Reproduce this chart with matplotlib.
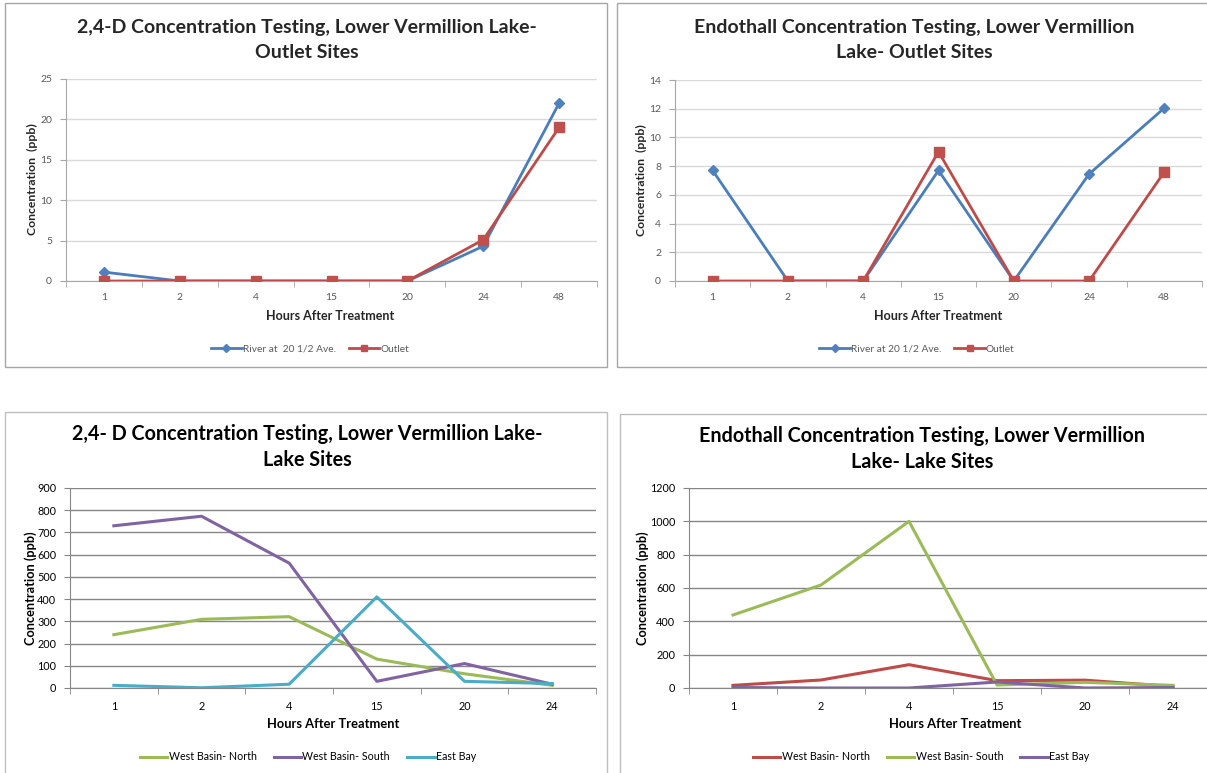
import matplotlib
matplotlib.use("Agg")
import matplotlib.pyplot as plt
from matplotlib.patches import Rectangle
from matplotlib.lines import Line2D

# ---------------- data ----------------
hours_outlet = ["1", "2", "4", "15", "20", "24", "48"]
hours_lake = ["1", "2", "4", "15", "20", "24"]

d24_river = [1.1, 0, 0, 0, 0, 4.3, 22.0]
d24_outlet = [0, 0, 0, 0, 0, 5.1, 19.0]

endo_river = [7.7, 0, 0, 7.7, 0, 7.45, 12.05]
endo_outlet = [0, 0, 0, 9.0, 0, 0, 7.6]

d24_wb_north = [240, 309, 321, 130, 64, 12]
d24_wb_south = [730, 773, 562, 30, 110, 17]
d24_east_bay = [12, 1, 17, 410, 30, 20]

endo_wb_north = [16, 48, 140, 44, 47, 9]
endo_wb_south = [438, 618, 1000, 18, 34, 16]
endo_east_bay = [3, 0, 0, 36, 0, 3]

# ---------------- styling ----------------
W, H = 1207, 773
FONT = "Lato"
BLUE = "#4A7EBB"
RED = "#BE4B48"
GREEN = "#9BBB59"
PURPLE = "#8064A2"
CYAN = "#4BACC6"

plt.rcParams["font.family"] = [FONT, "DejaVu Sans"]

fig = plt.figure(figsize=(W / 100, H / 100), dpi=100)


def fx(x):
    return x / W


def fy(y):
    return 1 - y / H


def border(l, t, r, b, color="#A6A6A6", lw=1.0):
    fig.add_artist(Rectangle((fx(l), fy(b)), fx(r - l), (b - t) / H,
                             transform=fig.transFigure, fill=False,
                             edgecolor=color, linewidth=lw))


def make_axes(l, t, r, b, ncat, ymax, ystep, cats, grid_color, tick_color,
              tick_size, axis_color):
    ax = fig.add_axes([fx(l), fy(b), fx(r - l), (b - t) / H])
    ax.set_xlim(-0.5, ncat - 0.5)
    ax.set_ylim(0, ymax)
    ax.set_facecolor("none")
    for s in ["top", "right"]:
        ax.spines[s].set_visible(False)
    ax.spines["left"].set_color(axis_color)
    ax.spines["bottom"].set_color(axis_color)
    ax.set_yticks(range(0, ymax + 1, ystep))
    ax.yaxis.grid(True, color=grid_color, linewidth=1.0)
    ax.set_axisbelow(True)
    ax.set_xticks(range(ncat))
    ax.set_xticklabels(cats)
    ax.set_xticks([i - 0.5 for i in range(ncat + 1)], minor=True)
    ax.tick_params(axis="x", which="major", length=0, pad=9,
                   labelsize=tick_size, labelcolor=tick_color)
    ax.tick_params(axis="x", which="minor", length=4, color=axis_color,
                   direction="out")
    ax.tick_params(axis="y", length=4, color=axis_color, pad=6,
                   labelsize=tick_size, labelcolor=tick_color)
    return ax


# ================= Top-left: 2,4-D outlet =================
border(5, 3, 607, 367)
ax1 = make_axes(66, 79, 597, 281, len(hours_outlet), 25, 5, hours_outlet,
                "#D9D9D9", "#595959", 7.5, "#A6A6A6")
ax1.plot(range(len(hours_outlet)), d24_river, color=BLUE, lw=2, marker="D",
         ms=5.5, mfc="#4F81BD", mec="#4F81BD", zorder=3)
ax1.plot(range(len(hours_outlet)), d24_outlet, color=RED, lw=2, marker="s",
         ms=7.5, mfc="#C0504D", mec="#C0504D", zorder=4)
fig.text(fx(307), fy(27), "2,4-D Concentration Testing, Lower Vermillion Lake-",
         ha="center", va="center", fontsize=14, fontweight="bold", color="#262626")
fig.text(fx(307), fy(52), "Outlet Sites", ha="center", va="center",
         fontsize=14, fontweight="bold", color="#262626")
fig.text(fx(32), fy(179), "Concentration  (ppb)", rotation=90, ha="center",
         va="center", fontsize=8.8, fontweight="bold", color="#262626")
fig.text(fx(330), fy(316), "Hours After Treatment", ha="center", va="center",
         fontsize=9, fontweight="bold", color="#262626")
h1 = [Line2D([], [], color=BLUE, lw=2, marker="D", ms=4, mfc="#4F81BD", mec="#4F81BD"),
      Line2D([], [], color=RED, lw=2, marker="s", ms=5, mfc="#C0504D", mec="#C0504D")]
fig.legend(h1, ["River at  20 1/2 Ave.", "Outlet"], loc="center",
           bbox_to_anchor=(fx(310), fy(349)), ncol=2, frameon=False,
           fontsize=7.3, labelcolor="#595959", handlelength=3,
           handletextpad=0.1, columnspacing=1.3)

# ================= Top-right: Endothall outlet =================
border(617, 3, 1212, 367)
ax2 = make_axes(675, 80, 1202, 281, len(hours_outlet), 14, 2, hours_outlet,
                "#D9D9D9", "#595959", 7.5, "#A6A6A6")
ax2.plot(range(len(hours_outlet)), endo_river, color=BLUE, lw=2, marker="D",
         ms=5.5, mfc="#4F81BD", mec="#4F81BD", zorder=3)
ax2.plot(range(len(hours_outlet)), endo_outlet, color=RED, lw=2, marker="s",
         ms=7.5, mfc="#C0504D", mec="#C0504D", zorder=4)
fig.text(fx(914), fy(27), "Endothall Concentration Testing, Lower Vermillion",
         ha="center", va="center", fontsize=14, fontweight="bold", color="#262626")
fig.text(fx(914), fy(52), "Lake- Outlet Sites", ha="center", va="center",
         fontsize=14, fontweight="bold", color="#262626")
fig.text(fx(641), fy(180), "Concentration  (ppb)", rotation=90, ha="center",
         va="center", fontsize=8.8, fontweight="bold", color="#262626")
fig.text(fx(938), fy(316), "Hours After Treatment", ha="center", va="center",
         fontsize=9, fontweight="bold", color="#262626")
fig.legend(h1, ["River at 20 1/2 Ave.", "Outlet"], loc="center",
           bbox_to_anchor=(fx(917), fy(349)), ncol=2, frameon=False,
           fontsize=7.3, labelcolor="#595959", handlelength=3,
           handletextpad=0.1, columnspacing=1.3)

# ================= Bottom-left: 2,4-D lake =================
border(5, 412, 607, 780, color="#BFBFBF")
ax3 = make_axes(70, 488, 596, 688, len(hours_lake), 900, 100, hours_lake,
                "#868686", "#000000", 7.8, "#868686")
x3 = range(len(hours_lake))
ax3.plot(x3, d24_wb_north, color=GREEN, lw=2.2, label="West Basin- North")
ax3.plot(x3, d24_wb_south, color=PURPLE, lw=2.2, label="West Basin- South")
ax3.plot(x3, d24_east_bay, color=CYAN, lw=2.2, label="East Bay")
fig.text(fx(307), fy(434), "2,4- D Concentration Testing, Lower Vermillion Lake-",
         ha="center", va="center", fontsize=14.2, fontweight="bold", color="black")
fig.text(fx(307), fy(460), "Lake Sites", ha="center", va="center",
         fontsize=14.2, fontweight="bold", color="black")
fig.text(fx(31), fy(588), "Concentration (ppb)", rotation=90, ha="center",
         va="center", fontsize=9.2, fontweight="bold", color="black")
fig.text(fx(333), fy(724), "Hours After Treatment", ha="center", va="center",
         fontsize=9.3, fontweight="bold", color="black")
fig.legend(*ax3.get_legend_handles_labels(), loc="center",
           bbox_to_anchor=(fx(308), fy(757)), ncol=3, frameon=False,
           fontsize=7.7, handlelength=2.6, handletextpad=0.1,
           columnspacing=1.6)

# ================= Bottom-right: Endothall lake =================
border(620, 414, 1215, 780, color="#BFBFBF")
ax4 = make_axes(689, 488, 1217, 688, len(hours_lake), 1200, 200, hours_lake,
                "#868686", "#000000", 7.8, "#868686")
ax4.plot(x3, endo_wb_north, color=RED, lw=2.2, label="West Basin- North")
ax4.plot(x3, endo_wb_south, color=GREEN, lw=2.2, label="West Basin- South")
ax4.plot(x3, endo_east_bay, color=PURPLE, lw=2.2, label="East Bay")
fig.text(fx(922), fy(436), "Endothall Concentration Testing, Lower Vermillion",
         ha="center", va="center", fontsize=14.2, fontweight="bold", color="black")
fig.text(fx(922), fy(462), "Lake- Lake Sites", ha="center", va="center",
         fontsize=14.2, fontweight="bold", color="black")
fig.text(fx(643), fy(588), "Concentration (ppb)", rotation=90, ha="center",
         va="center", fontsize=9.2, fontweight="bold", color="black")
fig.text(fx(955), fy(724), "Hours After Treatment", ha="center", va="center",
         fontsize=9.3, fontweight="bold", color="black")
fig.legend(*ax4.get_legend_handles_labels(), loc="center",
           bbox_to_anchor=(fx(921), fy(757)), ncol=3, frameon=False,
           fontsize=7.7, handlelength=2.6, handletextpad=0.1,
           columnspacing=1.6)

fig.savefig("out.png", dpi=100)
